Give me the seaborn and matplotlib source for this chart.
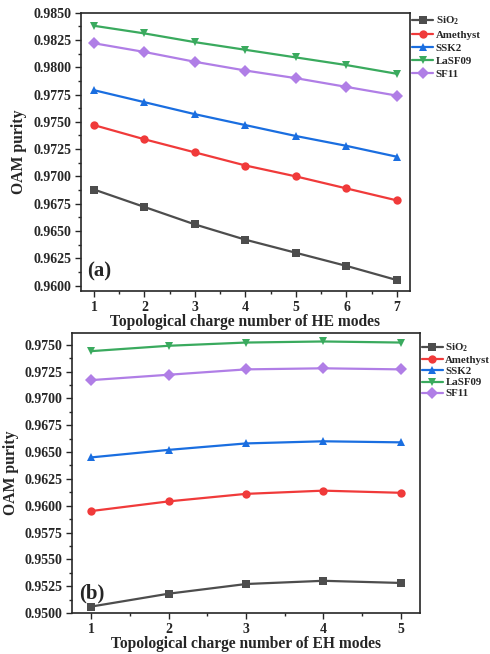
import numpy as np
import pandas as pd
import matplotlib
matplotlib.use("Agg")
import matplotlib.pyplot as plt
import seaborn as sns
from matplotlib.ticker import MultipleLocator, AutoMinorLocator

sns.set_theme(style="ticks")
plt.rcParams['font.family'] = ['Liberation Serif', 'DejaVu Serif']
plt.rcParams['font.weight'] = 'bold'
plt.rcParams['mathtext.fontset'] = 'custom'
plt.rcParams['mathtext.bf'] = 'Liberation Serif:bold'
plt.rcParams['mathtext.rm'] = 'Liberation Serif:bold'
plt.rcParams['mathtext.default'] = 'bf'

materials = [r'SiO$_2$', 'Amethyst', 'SSK2', 'LaSF09', 'SF11']
colors = ['#4d4d4d', '#f03a3a', '#1a6ee0', '#3aaa5e', '#b07ee6']
markers = ['s', 'o', '^', 'v', 'D']

he_modes = [1, 2, 3, 4, 5, 6, 7]
he_sio2 = [0.9688, 0.9672, 0.9656, 0.9642, 0.9630, 0.9618, 0.9605]
he_amethyst = [0.9747, 0.9734, 0.9722, 0.9710, 0.9700, 0.9689, 0.9678]
he_ssk2 = [0.9779, 0.9768, 0.9757, 0.9747, 0.9737, 0.9728, 0.9718]
he_lasf09 = [0.9838, 0.9831, 0.9823, 0.9816, 0.9809, 0.9802, 0.9794]
he_sf11 = [0.9822, 0.9814, 0.9805, 0.9797, 0.9790, 0.9782, 0.9774]

eh_modes = [1, 2, 3, 4, 5]
eh_sio2 = [0.9506, 0.9518, 0.9527, 0.9530, 0.9528]
eh_amethyst = [0.9595, 0.9604, 0.9611, 0.9614, 0.9612]
eh_ssk2 = [0.9645, 0.9652, 0.9658, 0.9660, 0.9659]
eh_lasf09 = [0.9744, 0.9749, 0.9752, 0.9753, 0.9752]
eh_sf11 = [0.9717, 0.9722, 0.9727, 0.9728, 0.9727]


def long_df(modes, series):
    rows = []
    for name, vals in zip(materials, series):
        for m, v in zip(modes, vals):
            rows.append({'mode': m, 'purity': v, 'material': name})
    return pd.DataFrame(rows)


df_he = long_df(he_modes, [he_sio2, he_amethyst, he_ssk2, he_lasf09, he_sf11])
df_eh = long_df(eh_modes, [eh_sio2, eh_amethyst, eh_ssk2, eh_lasf09, eh_sf11])

fig = plt.figure(figsize=(4.9, 6.54), dpi=100)
ax1 = fig.add_axes([0.165, 0.555, 0.672, 0.4256])
ax2 = fig.add_axes([0.147, 0.0627, 0.710, 0.4283])

pal = dict(zip(materials, colors))
mk = dict(zip(materials, markers))


def draw(ax, df, xlabel, ylim, xlim, ticks, label, lspace, ly):
    sns.lineplot(data=df, x='mode', y='purity', hue='material', style='material',
                 palette=pal, markers=mk, dashes=False, markersize=6,
                 markeredgewidth=0, linewidth=1.6, ax=ax, legend=True)
    ax.set_xlim(*xlim)
    ax.set_ylim(*ylim)
    ax.set_xticks(ticks)
    ax.xaxis.set_minor_locator(AutoMinorLocator(2))
    ax.yaxis.set_major_locator(MultipleLocator(0.0025))
    ax.yaxis.set_minor_locator(AutoMinorLocator(2))
    ax.yaxis.set_major_formatter(matplotlib.ticker.FormatStrFormatter('%.4f'))
    ax.tick_params(which='major', direction='out', length=4, width=1, labelsize=10, pad=3)
    ax.tick_params(which='minor', direction='out', length=2.5, width=1)
    for lab in ax.get_xticklabels() + ax.get_yticklabels():
        lab.set_fontweight('bold')
    for s in ax.spines.values():
        s.set_linewidth(1.2)
        s.set_visible(True)
    ax.set_xlabel(xlabel, fontsize=11.2, fontweight='bold', labelpad=0)
    ax.set_ylabel('OAM purity', fontsize=11.3, fontweight='bold', labelpad=4)
    ax.text(0.02, 0.035, label, transform=ax.transAxes, fontsize=15,
            fontweight='bold', ha='left', va='bottom')
    leg = ax.legend(loc='upper left', bbox_to_anchor=(1.0, ly), frameon=False,
                    prop={'weight': 'bold', 'size': 7.8}, handlelength=2.0,
                    handletextpad=0.2, labelspacing=lspace, borderaxespad=0.0,
                    borderpad=0.15)
    for h in leg.legend_handles:
        h.set_markersize(6)


draw(ax1, df_he, 'Topological charge number of HE modes', (0.9595, 0.985),
     (0.74, 7.26), he_modes, '(a)', 0.32, 1.0)
draw(ax2, df_eh, 'Topological charge number of EH modes', (0.95, 0.9761),
     (0.75, 5.25), eh_modes, '(b)', 0.14, 0.975)

fig.savefig('out.png', dpi=100)
